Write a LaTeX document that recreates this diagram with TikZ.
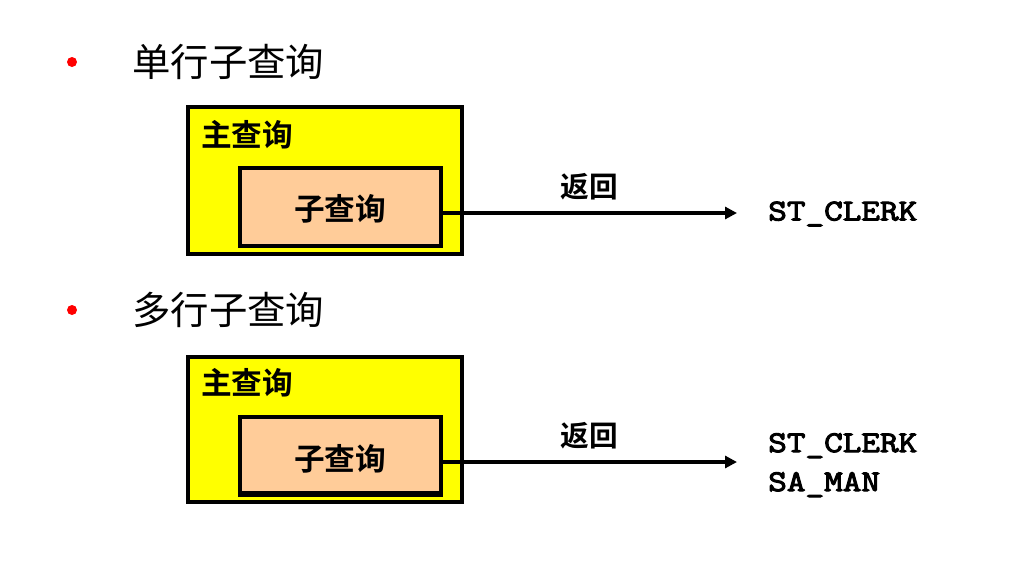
\documentclass[tikz,border=0pt]{standalone}
\usepackage{fontspec}
\usetikzlibrary{arrows.meta}
\newfontfamily\cjk{Noto Sans CJK SC}
\newfontfamily\cjkb{Noto Sans CJK SC Bold}
\newfontfamily\mono[FakeBold=3.5,FakeStretch=1.2]{Latin Modern Mono}
\definecolor{boxyellow}{HTML}{FFFF00}
\definecolor{peach}{HTML}{FFCC99}
\definecolor{bulletred}{HTML}{FF0000}
\tikzset{
  outerbox/.style={draw=black, fill=boxyellow, line width=3.5pt},
  innerbox/.style={draw=black, fill=peach, line width=3.5pt},
  title/.style={anchor=west, inner sep=0pt, font=\cjk\fontsize{28.8}{32}\selectfont},
  boxlabel/.style={inner sep=0pt, font=\cjkb\fontsize{23}{26}\selectfont},
  retlabel/.style={inner sep=0pt, font=\cjkb\fontsize{21.5}{24}\selectfont},
  result/.style={anchor=west, inner sep=0pt, align=left, font=\mono\fontsize{22.6}{29.25}\selectfont},
  retarrow/.style={line width=3.2pt, -{Triangle[length=9pt,width=9pt]}},
  bullet/.style={circle, fill=bulletred, inner sep=0pt, minimum size=7.5pt}
}
\begin{document}
\begin{tikzpicture}[x=0.75pt,y=-0.75pt]
\useasboundingbox (0,0) rectangle (1024,579);
% first group
\node[bullet] (b1) at (72,62) {};
\node[title] (t1) at (132,62) {单行子查询};
\draw[outerbox] (188,107) rectangle (462,254);
\node[boxlabel, anchor=west] (m1) at (201,135) {主查询};
\draw[innerbox] (240,168) rectangle (441,246);
\node (s1box) at (340.5,207) [minimum width=201*0.75pt, minimum height=78*0.75pt, inner sep=0pt] {};
\node[boxlabel] (s1) at (340,209) {子查询};
\coordinate (e1) at (737,213);
\draw[retarrow] (s1box.east |- e1) -- (e1);
\node[retlabel] (r1) at (589,187) {返回};
\node[result] (o1) at (768,214) {ST\_CLERK};
% second group
\node[bullet] (b2) at (72,310) {};
\node[title] (t2) at (132,310) {多行子查询};
\draw[outerbox] (188,357) rectangle (462,502);
\node[boxlabel, anchor=west] (m2) at (201,383) {主查询};
\draw[innerbox] (240,417) rectangle (441,495);
\draw[line width=5pt] (238,494) -- (443,494);
\node (s2box) at (340.5,456) [minimum width=201*0.75pt, minimum height=78*0.75pt, inner sep=0pt] {};
\node[boxlabel] (s2) at (340,459) {子查询};
\coordinate (e2) at (737,462);
\draw[retarrow] (s2box.east |- e2) -- (e2);
\node[retlabel] (r2) at (589,436) {返回};
\node[result, anchor=north west] (o2) at (768,433) {ST\_CLERK\\SA\_MAN};
\end{tikzpicture}
\end{document}
